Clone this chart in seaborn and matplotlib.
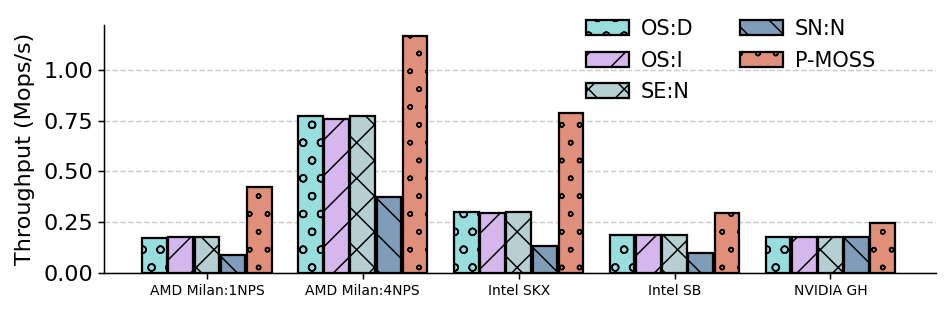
import matplotlib
matplotlib.use("Agg")
import matplotlib.pyplot as plt
import matplotlib.hatch as mhatch
import seaborn as sns
import pandas as pd

categories = ["AMD Milan:1NPS", "AMD Milan:4NPS", "Intel SKX", "Intel SB", "NVIDIA GH"]
series = ["OS:D", "OS:I", "SE:N", "SN:N", "P-MOSS"]
os_d = [0.171, 0.772, 0.302, 0.189, 0.176]
os_i = [0.179, 0.760, 0.297, 0.189, 0.176]
se_n = [0.176, 0.772, 0.299, 0.186, 0.176]
sn_n = [0.089, 0.373, 0.135, 0.098, 0.176]
p_moss = [0.422, 1.166, 0.785, 0.297, 0.245]

colors = ["#98dede", "#d5b7ee", "#b5cfd2", "#7f9db9", "#e0907a"]
hatches = ["o", "/", "x", "\\", "."]

# small dots drawn as hollow rings, as in the reference
mhatch.SmallFilledCircles.filled = False
mhatch.SmallFilledCircles.size = 0.12

rows = []
for name, vals in zip(series, [os_d, os_i, se_n, sn_n, p_moss]):
    for c, v in zip(categories, vals):
        rows.append({"Platform": c, "Method": name, "Throughput": v})
df = pd.DataFrame(rows)

sns.set_style("white")
plt.rcParams.update({
    "hatch.linewidth": 1.0,
    "text.color": "black",
    "axes.labelcolor": "black",
    "xtick.color": "black",
    "ytick.color": "black",
})
DPI = 107.5
fig = plt.figure(figsize=(946 / DPI, 309 / DPI), dpi=DPI)
ax = fig.add_axes([0.110, 0.1165, 0.879, 0.8025])

sns.barplot(data=df, x="Platform", y="Throughput", hue="Method",
            order=categories, hue_order=series, palette=colors, saturation=1,
            width=0.84, gap=0.06, edgecolor="black", linewidth=1.5,
            ax=ax, zorder=3)

for cont, h in zip(ax.containers, hatches):
    for p in cont:
        p.set_hatch(h)
        p.set_edgecolor("black")

ax.set_ylim(0, 1.22)
ax.set_xlim(-0.66, 4.675)
ax.set_yticks([0, 0.25, 0.5, 0.75, 1.0])
ax.set_yticklabels(["0.00", "0.25", "0.50", "0.75", "1.00"])
ax.yaxis.grid(True, linestyle="--", color="#cccccc", linewidth=1.0, zorder=0)
ax.set_axisbelow(True)
ax.set_xlabel("")
ax.set_ylabel("Throughput (Mops/s)", fontsize=15, labelpad=6, color="black")
ax.tick_params(axis="y", labelsize=15, length=4, width=1, direction="out", left=True, pad=3,
               colors="black")
ax.tick_params(axis="x", labelsize=9.3, length=4, width=1, direction="out", bottom=True,
               colors="black")
for s in ["top", "right"]:
    ax.spines[s].set_visible(False)
for s in ["left", "bottom"]:
    ax.spines[s].set_color("black")
    ax.spines[s].set_linewidth(1.0)

handles, labels = ax.get_legend_handles_labels()
for hd, h in zip(handles, hatches):
    hd.set_hatch(h)
    hd.set_edgecolor("black")
leg = ax.legend(handles, labels, ncol=2, loc="upper right", bbox_to_anchor=(0.95, 1.10),
                frameon=False, fontsize=14, handlelength=2.1, handleheight=0.75,
                columnspacing=2.2, labelspacing=0.55, handletextpad=0.55)
for t in leg.get_texts():
    t.set_color("black")

fig.savefig("out.png", dpi=DPI)
